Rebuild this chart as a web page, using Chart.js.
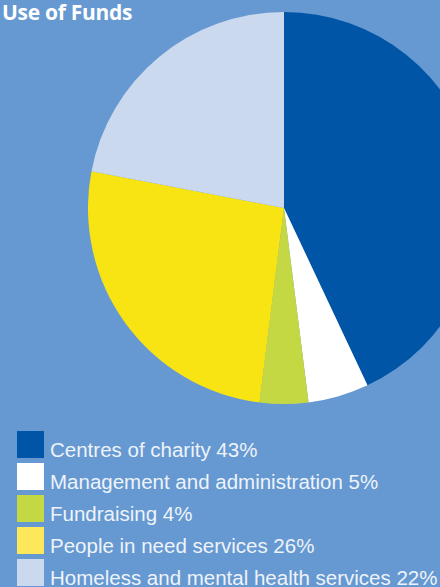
<!DOCTYPE html>
<html>
<head>
<meta charset="utf-8">
<script src="https://cdn.jsdelivr.net/npm/chart.js@4"></script>
<style>
  html, body { margin: 0; padding: 0; }
  body {
    width: 440px; height: 587px; overflow: hidden; position: relative;
    background: #6699d1;
  }
  #title {
    position: absolute; left: 2px; top: -2px;
    font-family: "Open Sans", sans-serif; font-weight: 700; font-size: 21px;
    color: #ffffff; letter-spacing: -0.3px;
  }
  #wrap { position: absolute; left: 88px; top: 12px; width: 392px; height: 392px; }
  #legend { position: absolute; left: 17px; top: 431px; }
  .row { position: relative; height: 32px; }
  .sw { position: absolute; left: 0; top: 0; width: 27px; height: 27px; }
  .lbl {
    position: absolute; left: 33px; top: 6px; white-space: nowrap;
    font-family: "Liberation Sans", Arial, sans-serif; font-size: 20.5px;
    color: #eef3fa; line-height: 26px;
  }
</style>
</head>
<body>
<div id="title">Use of Funds</div>
<div id="wrap"><canvas id="pie" width="392" height="392"></canvas></div>
<div id="legend"></div>
<script>
const labels = [
  "Centres of charity",
  "Management and administration",
  "Fundraising",
  "People in need services",
  "Homeless and mental health services",
];
const shares = [43, 5, 4, 26, 22];
const sliceColors = ["#0055a6", "#ffffff", "#c4d843", "#f9e413", "#cbd9ef"];
const swatchColors = ["#0055a6", "#ffffff", "#c4d843", "#fde75b", "#cbd9ef"];

const legendEl = document.getElementById("legend");
legendEl.innerHTML = labels
  .map(
    (name, i) =>
      `<div class="row"><div class="sw" style="background:${swatchColors[i]}"></div><div class="lbl">${name} ${shares[i]}%</div></div>`
  )
  .join("");

new Chart(document.getElementById("pie"), {
  type: "pie",
  data: {
    labels,
    datasets: [
      {
        data: shares,
        backgroundColor: sliceColors,
        borderWidth: 0,
        hoverOffset: 0,
      },
    ],
  },
  options: {
    responsive: false,
    animation: false,
    layout: { padding: 0 },
    plugins: { legend: { display: false }, tooltip: { enabled: false } },
  },
});
</script>
</body>
</html>
